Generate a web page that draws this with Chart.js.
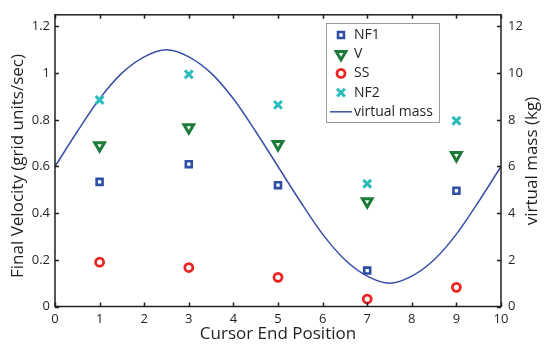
<!DOCTYPE html>
<html>
<head>
<meta charset="utf-8">
<title>Final velocity and virtual mass</title>
<script src="https://cdn.jsdelivr.net/npm/chart.js@4.4.1/dist/chart.umd.min.js"></script>
<style>
  html, body { margin: 0; padding: 0; background: #fff; }
  #wrap { width: 546px; height: 345px; }
</style>
</head>
<body>
<div id="wrap"><canvas id="chart" width="546" height="345"></canvas></div>
<script>
// --- data ---
const endPositions = [1, 3, 5, 7, 9];
const nf1 = [0.534, 0.61, 0.52, 0.154, 0.496];
const vel = [0.69, 0.767, 0.695, 0.45, 0.648];
const ss = [0.19, 0.167, 0.125, 0.032, 0.082];
const nf2 = [0.885, 0.995, 0.864, 0.526, 0.796];

// virtual mass curve (kg), sampled along the cursor position
const massX = [0, 0.5, 1, 1.5, 2, 2.5, 3, 3.5, 4, 4.5, 5, 5.5, 6, 6.5, 7, 7.5, 8, 8.5, 9, 9.5, 10];
const massKg = [6.0, 7.5, 8.9, 10.0, 10.7, 11.0, 10.7, 10.0, 8.9, 7.5, 6.0, 4.5, 3.1, 2.0, 1.3, 1.0, 1.3, 2.0, 3.1, 4.5, 6.0];

const xTicks = [0, 1, 2, 3, 4, 5, 6, 7, 8, 9, 10];
const velTicks = [0, 0.2, 0.4, 0.6, 0.8, 1, 1.2];
const massTicks = [0, 2, 4, 6, 8, 10, 12];

const FONT = "'Open Sans', 'DejaVu Sans', sans-serif";
const INK = '#231f20';

const pts = (xs, ys) => xs.map((x, i) => ({ x: x, y: ys[i] }));

// box round the plot, inward ticks, the two y titles and the legend
const framePlugin = {
  id: 'frame',
  afterDraw(chart) {
    const { ctx, chartArea: a, scales } = chart;
    const tl = 4;
    ctx.save();
    ctx.strokeStyle = INK;
    ctx.lineWidth = 1.5;
    ctx.strokeRect(a.left, a.top, a.right - a.left, a.bottom - a.top);
    ctx.beginPath();
    xTicks.forEach(v => {
      const px = Math.round(scales.x.getPixelForValue(v)) + 0.5;
      ctx.moveTo(px, a.bottom); ctx.lineTo(px, a.bottom - tl);
      ctx.moveTo(px, a.top); ctx.lineTo(px, a.top + tl);
    });
    velTicks.forEach(v => {
      const py = Math.round(scales.y.getPixelForValue(v)) + 0.5;
      ctx.moveTo(a.left, py); ctx.lineTo(a.left + tl, py);
    });
    massTicks.forEach(v => {
      const py = Math.round(scales.y1.getPixelForValue(v)) + 0.5;
      ctx.moveTo(a.right, py); ctx.lineTo(a.right - tl, py);
    });
    ctx.stroke();

    // y titles, both reading upwards
    ctx.fillStyle = INK;
    ctx.font = '17px ' + FONT;
    ctx.textAlign = 'center';
    ctx.textBaseline = 'middle';
    [[18, 166, 'Final Velocity (grid units/sec)'], [532, 161, 'virtual mass (kg)']].forEach(([x, y, t]) => {
      ctx.save();
      ctx.translate(x, y);
      ctx.rotate(-Math.PI / 2);
      ctx.fillText(t, 0, 0);
      ctx.restore();
    });

    // legend
    const lx = 326, ly = 23, lw = 113, lh = 99;
    ctx.fillStyle = '#fff';
    ctx.fillRect(lx, ly, lw, lh);
    ctx.strokeStyle = '#9a9a9a';
    ctx.lineWidth = 1;
    ctx.strokeRect(lx + 0.5, ly + 0.5, lw, lh);
    ctx.font = '14px ' + FONT;
    ctx.textAlign = 'left';
    ctx.textBaseline = 'middle';
    chart.data.datasets.forEach((ds, i) => {
      const y = ly + 12 + i * 19.2;
      if (ds.showLine) {
        ctx.strokeStyle = ds.borderColor;
        ctx.lineWidth = ds.borderWidth;
        ctx.beginPath();
        ctx.moveTo(lx + 4, y); ctx.lineTo(lx + 26, y);
        ctx.stroke();
      } else {
        ctx.strokeStyle = ds.pointBorderColor;
        ctx.fillStyle = ds.pointBackgroundColor;
        ctx.lineWidth = ds.pointBorderWidth;
        Chart.helpers.drawPoint(ctx, {
          pointStyle: ds.pointStyle,
          rotation: ds.pointRotation || 0,
          radius: ds.pointRadius,
          borderWidth: ds.pointBorderWidth
        }, lx + 15, y);
      }
      ctx.fillStyle = INK;
      ctx.fillText(ds.label, lx + 28, y);
    });
    ctx.restore();
  }
};

function marker(label, ys, color, style, radius, width, rotation) {
  return {
    type: 'scatter',
    label: label,
    data: pts(endPositions, ys),
    yAxisID: 'y',
    pointStyle: style,
    pointRotation: rotation || 0,
    pointRadius: radius,
    pointHoverRadius: radius,
    pointBorderWidth: width,
    pointBorderColor: color,
    pointBackgroundColor: '#fff',
    showLine: false
  };
}

new Chart(document.getElementById('chart'), {
  data: {
    datasets: [
      marker('NF1', nf1, '#2e4ea6', 'rect', 4.2, 2.6),
      marker('V', vel, '#1b7b37', 'triangle', 5.6, 3, 180),
      marker('SS', ss, '#ea2420', 'circle', 4, 2.8),
      marker('NF2', nf2, '#2dbcbc', 'crossRot', 5.5, 3),
      {
        type: 'line',
        label: 'virtual mass',
        data: pts(massX, massKg),
        yAxisID: 'y1',
        borderColor: '#3b4ea7',
        borderWidth: 1.5,
        pointRadius: 0,
        cubicInterpolationMode: 'monotone',
        showLine: true,
        fill: false
      }
    ]
  },
  options: {
    responsive: false,
    animation: false,
    layout: { padding: { top: 11, left: 0, right: 0, bottom: 0 } },
    plugins: { legend: { display: false }, tooltip: { enabled: false } },
    scales: {
      x: {
        type: 'linear',
        min: 0, max: 10,
        grid: { display: false, drawTicks: false },
        border: { display: false },
        ticks: { stepSize: 1, color: INK, font: { family: FONT, size: 13 }, padding: 5, maxRotation: 0 },
        title: { display: true, text: 'Cursor End Position', color: INK, font: { family: FONT, size: 17 }, padding: { top: 0, bottom: 1 } },
        afterFit(s) { s.height = 38.5; }
      },
      y: {
        position: 'left',
        min: 0, max: 1.25,
        grid: { display: false, drawTicks: false },
        border: { display: false },
        ticks: {
          stepSize: 0.2, includeBounds: false, color: INK, padding: 5,
          font: { family: FONT, size: 13 },
          callback: v => String(+v.toFixed(2))
        },
        afterFit(s) { s.width = 55; }
      },
      y1: {
        position: 'right',
        min: 0, max: 12.5,
        grid: { display: false, drawTicks: false },
        border: { display: false },
        ticks: { stepSize: 2, includeBounds: false, color: INK, padding: 7, font: { family: FONT, size: 13 } },
        afterFit(s) { s.width = 45; }
      }
    }
  },
  plugins: [framePlugin]
});
</script>
</body>
</html>
